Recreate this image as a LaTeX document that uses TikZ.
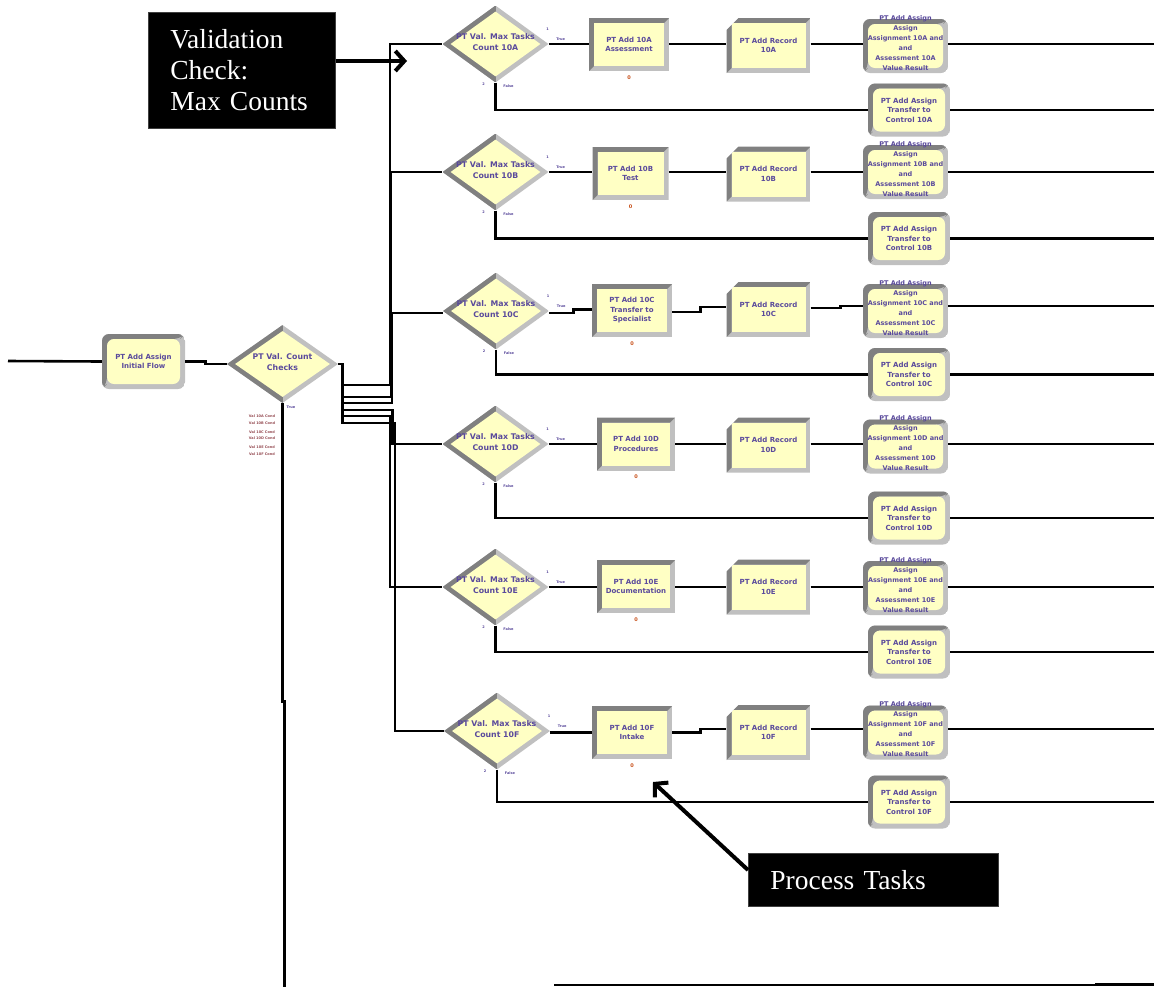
\documentclass[tikz,border=0pt]{standalone}
\usepackage{fontspec}
\setmainfont{Liberation Serif}
\newfontfamily\modfont{DejaVu Sans}
\usetikzlibrary{shapes.geometric,shapes.misc,arrows.meta,calc}

\definecolor{modfill}{HTML}{FFFFC4}
\definecolor{bevdark}{HTML}{808080}
\definecolor{bevlight}{HTML}{C0C0C0}
\definecolor{modink}{HTML}{5A4A9C}
\definecolor{tagred}{HTML}{C8501A}

\tikzset{
  conn/.style={line width=2.6pt},
  modtext/.style={font=\modfont\bfseries\fontsize{7}{9.5}\selectfont, text=modink, align=center, inner sep=0pt},
  dectext/.style={modtext, font=\modfont\bfseries\fontsize{7.8}{11.5}\selectfont},
  tagtext/.style={font=\modfont\bfseries\fontsize{3.5}{4.5}\selectfont, text=modink, inner sep=0pt, align=center},
  % raised frame: dark top/left, light bottom/right, yellow face
  bevel/.style={path picture={
    \coordinate (bvSW) at (path picture bounding box.south west);
    \coordinate (bvNE) at (path picture bounding box.north east);
    \coordinate (bvNW) at (bvSW |- bvNE);
    \fill[bevlight] (bvSW) rectangle (bvNE);
    \fill[bevdark] (bvSW) -- (bvNW) -- (bvNE) -- ([shift={(-5pt,-5pt)}]bvNE)
      -- ([shift={(5pt,-5pt)}]bvNW) -- ([shift={(5pt,5pt)}]bvSW) -- cycle;
    \fill[modfill] ([shift={(5pt,5pt)}]bvSW) rectangle ([shift={(-5pt,-5pt)}]bvNE);
  }},
  % decision frame: dark left half, light right half, yellow face
  dbevel/.style={path picture={
    \coordinate (bvSW) at (path picture bounding box.south west);
    \coordinate (bvNE) at (path picture bounding box.north east);
    \coordinate (bvC) at ($(bvSW)!0.5!(bvNE)$);
    \coordinate (bvW) at (bvSW |- bvC);
    \coordinate (bvE) at (bvNE |- bvC);
    \coordinate (bvN) at (bvC |- bvNE);
    \coordinate (bvS) at (bvC |- bvSW);
    \fill[bevlight] (bvSW) rectangle (bvNE);
    \fill[bevdark] (bvSW) rectangle (bvN);
    \fill[modfill] ([xshift=8pt]bvW) -- ([yshift=-6pt]bvN) -- ([xshift=-8pt]bvE) -- ([yshift=6pt]bvS) -- cycle;
  }},
  procbox/.style={rectangle, bevel, minimum width=79pt, minimum height=53pt, modtext},
  recbox/.style={chamfered rectangle, chamfered rectangle corners=north west,
    chamfered rectangle xsep=6pt, chamfered rectangle ysep=6pt, bevel,
    minimum width=84pt, minimum height=55pt, modtext},
  octbox/.style={rectangle, rounded corners=7pt, bevel, minimum width=85pt, minimum height=54pt, modtext},
  decbox/.style={diamond, dbevel, inner sep=0pt, minimum width=106pt, minimum height=77pt},
  callbox/.style={fill=black, draw=black!75, line width=0.8pt, text=white,
    font=\fontsize{27.5}{31}\selectfont, align=left, inner ysep=0pt, anchor=north west},
  callarrow/.style={line width=4pt, -{Straight Barb[length=9pt,width=20pt]}},
}

\begin{document}
\begin{tikzpicture}[x=1pt,y=-1pt]
\useasboundingbox[fill=white] (0,0) rectangle (1154,986);

\coordinate (edge) at (1154,0);

% ---------- entry and counting decision ----------
\coordinate (inL) at (8,361);
\node[octbox, minimum width=83pt, minimum height=55pt] (init) at (143.5,361.5) {PT Add Assign\\Initial Flow};
\node[decbox, minimum width=111pt, minimum height=78pt] (cd) at (282.5,364) {};
\node[dectext] (cdx) at (282.5,362) {PT Val. Count\\Checks};
\node[tagtext] (cdt) at (291,407) {True};
\foreach \i/\yy/\tx in {1/416.5/Val 10A Cond,2/423/Val 10B Cond,3/432/Val 10C Cond,4/438.5/Val 10D Cond,5/447.5/Val 10E Cond,6/454/Val 10F Cond}
  \node[tagtext, text=tagred!55!modink] (cdc\i) at (262,\yy) {\tx};

% ---------- six validation rows ----------
\foreach \k/\c/\xx/\yy in {1/A/495.5/44,2/B/495.5/172,3/C/496/311,4/D/495.5/444,5/E/495.5/587,6/F/497/731}{
  \node[decbox] (d\k) at (\xx,\yy) {};
  \node[dectext] (d\k x) at (\xx,\yy-2) {PT Val. Max Tasks\\Count 10\c};
}

\node[procbox, minimum width=80pt] (p1) at (629,44.5)  {PT Add 10A\\Assessment};
\node[procbox, minimum width=76pt] (p2) at (630.5,173.5) {PT Add 10B\\Test};
\node[procbox, minimum width=80pt] (p3) at (632,310.5) {PT Add 10C\\Transfer to\\Specialist};
\node[procbox, minimum width=78pt] (p4) at (636,444)   {PT Add 10D\\Procedures};
\node[procbox, minimum width=78pt] (p5) at (636,586.5) {PT Add 10E\\Documentation};
\node[procbox, minimum width=80pt] (p6) at (632,732.5) {PT Add 10F\\Intake};

\node[recbox] (r1) at (768.5,45.5)  {PT Add Record\\10A};
\node[recbox] (r2) at (768.5,174)   {PT Add Record\\10B};
\node[recbox] (r3) at (768.5,309.5) {PT Add Record\\10C};
\node[recbox] (r4) at (768.5,445)   {PT Add Record\\10D};
\node[recbox] (r5) at (768.5,587)   {PT Add Record\\10E};
\node[recbox] (r6) at (768.5,732.5) {PT Add Record\\10F};

\foreach \k/\c/\yy in {1/A/46,2/B/172,3/C/311,4/D/446.5,5/E/588,6/F/732.5}{
  \node[octbox] (o\k) at (905.5,\yy) {};
  \node[modtext, font=\modfont\bfseries\fontsize{6.5}{10}\selectfont] (o\k t) at (905.5,\yy-3)
    {PT Add Assign\\Assign\\Assignment 10\c{} and\\and\\Assessment 10\c\\Value Result};
}

\foreach \k/\c/\yy in {1/A/110,2/B/238.5,3/C/374.5,4/D/518,5/E/652,6/F/802}
  \node[octbox, minimum width=82pt, minimum height=53pt] (l\k) at (909,\yy) {PT Add Assign\\Transfer to\\Control 10\c};

% exit tags on decisions and processes
\foreach \k in {1,...,6}{
  \node[tagtext] (d\k a) at ([shift={(-1pt,15pt)}]d\k.east) {1};
  \node[tagtext] (d\k b) at ([shift={(12pt,5pt)}]d\k.east) {True};
  \node[tagtext] (d\k c) at ([shift={(-12pt,-1pt)}]d\k.south) {2};
  \node[tagtext] (d\k d) at ([shift={(13pt,-3pt)}]d\k.south) {False};
  \node[tagtext, text=tagred, font=\modfont\bfseries\fontsize{5}{5}\selectfont] (p\k z) at ([yshift=-6pt]p\k.south) {0};
}

% ---------- connectors ----------
\draw[conn] (inL) -- (init.west);
\draw[conn] (init.east) -- ++(20,0) |- (cd.west);
\draw[conn] (cd.south) -- ++(0,298) -- ++(2,0) -- ++(0,290);

\draw[conn] (cd.east) -- ++(4,0) |- (390,385)   |- (d1.west);
\draw[conn] (cd.east) -- ++(4,0) |- (391,397)   |- (d2.west);
\draw[conn] (cd.east) -- ++(4,0) |- (392,403)   |- ([yshift=-2pt]d3.west);
\draw[conn] (cd.east) -- ++(4,0) |- (392.5,410) |- (d4.west);
\draw[conn] (cd.east) -- ++(4,0) |- (390,416)   |- (d5.west);
\draw[conn] (cd.east) -- ++(4,0) |- (395,423)   |- (d6.west);

% straight rows
\foreach \k in {1,2,4,5}{
  \draw[conn] (d\k.east) -- (d\k.east -| p\k.west);
  \draw[conn] (p\k.east |- d\k.east) -- (d\k.east -| r\k.west);
  \draw[conn] (r\k.east |- d\k.east) -- (d\k.east -| o\k.west);
  \draw[conn] (o\k.east |- d\k.east) -- (d\k.east -| edge);
}
% rows with small offsets
\draw[conn] ([yshift=-2pt]d3.east) -- ++(24,0) |- ([yshift=1pt]p3.west);
\draw[conn] ([yshift=-1.5pt]p3.east) -- ++(28,0) |- ([yshift=2.5pt]r3.west);
\draw[conn] ([yshift=1.5pt]r3.east) -- ++(30,0) |- ([yshift=5pt]o3.west);
\draw[conn] ([yshift=5pt]o3.east) -- ([yshift=5pt]o3.east -| edge);

\draw[conn] ([yshift=-1.5pt]d6.east) -- ([yshift=-1.5pt]d6.east -| p6.west);
\draw[conn] (p6.east) -- ++(28,0) |- ([yshift=3.5pt]r6.west);
\draw[conn] ([yshift=3.5pt]r6.east) -- ([yshift=3.5pt]r6.east -| o6.west);
\draw[conn] ([yshift=3.5pt]o6.east) -- ([yshift=3.5pt]o6.east -| edge);

% false branches
\foreach \k in {1,...,6}{
  \draw[conn] (d\k.south) |- (l\k.west);
  \draw[conn] (l\k.east) -- (l\k.east -| edge);
}

% bottom rule
\coordinate (bl) at (554,985);
\coordinate (bm) at (1095,985);
\coordinate (br) at (1154,984);
\draw[line width=1.2pt] (bl) -- (bm);
\draw[line width=3pt] (bm |- br) -- (br);

% ---------- callouts ----------
\node[callbox, text width=143pt, inner xsep=22pt, minimum height=116pt] (vc) at (148,12) {Validation\\Check:\\Max Counts};
\coordinate (tipA) at (407,61);
\draw[callarrow] (vc.east |- tipA) -- (tipA);

\node[callbox, text width=206pt, inner xsep=22pt, minimum height=53pt] (ptk) at (748,853) {Process Tasks};
\coordinate (tipB) at (653,782);
\draw[callarrow] ([yshift=-17pt]ptk.north west) -- (tipB);

\end{tikzpicture}
\end{document}
